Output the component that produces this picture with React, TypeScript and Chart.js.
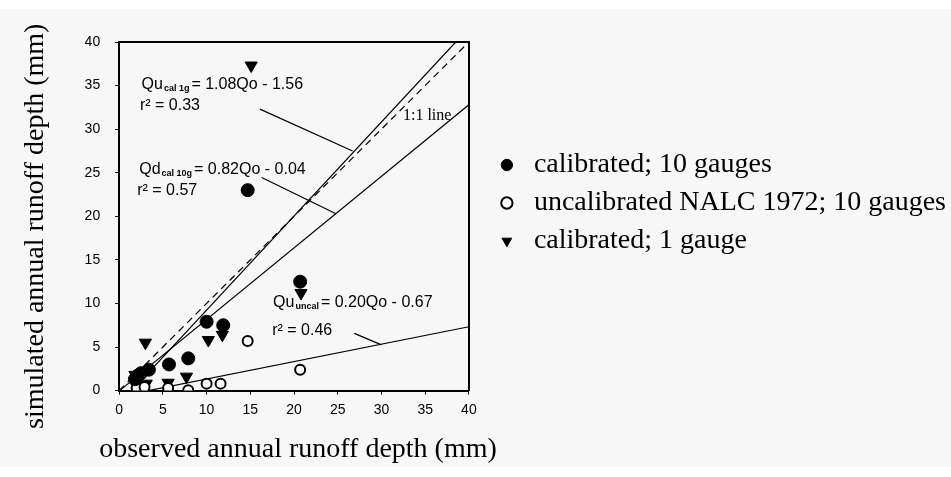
import React, { useEffect, useRef } from "react";
import { Chart, registerables } from "chart.js";

Chart.register(...registerables);

const SANS = '"Liberation Sans", Arial, sans-serif';
const SERIF = '"Liberation Serif", "Times New Roman", serif';

// axis range / ticks
const AXIS_MIN = 0;
const AXIS_MAX = 40;
const TICK_STEP = 5;
const xTitle = "observed annual runoff depth (mm)";
const yTitle = "simulated annual runoff depth (mm)";

// series (observed, simulated) in mm
const calibrated10Obs = [1.8, 2.1, 2.5, 3.4, 5.7, 7.9, 10.0, 11.9, 14.7, 20.7];
const calibrated10Sim = [1.3, 1.7, 2.0, 2.4, 3.0, 3.7, 7.9, 7.5, 23.0, 12.5];

const uncalibratedObs = [2.0, 2.9, 5.6, 7.9, 10.0, 11.6, 14.7, 20.7];
const uncalibratedSim = [0.3, 0.4, 0.3, 0.05, 0.8, 0.8, 5.7, 2.4];

const calibrated1Obs = [1.8, 3.0, 3.1, 5.6, 7.7, 10.2, 11.8, 15.1, 20.8];
const calibrated1Sim = [1.8, 5.5, 0.8, 0.9, 1.6, 5.8, 6.4, 37.3, 11.2];

const seriesNames = [
  "calibrated; 10 gauges",
  "uncalibrated NALC 1972; 10 gauges",
  "calibrated; 1 gauge",
];

// fitted lines (endpoints) and 1:1 line
const quCalLine = [[1.44, 0], [38.5, 40]];
const oneToOneLine = [[0, 0], [40, 40]];
const qdCalLine = [[0.05, 0], [40, 32.8]];
const quUncalLine = [[3.35, 0], [40, 7.33]];

// leader lines from labels to fitted lines
const leaderQu = [[16.1, 32.3], [26.7, 27.5]];
const leaderQd = [[16.3, 24.45], [24.8, 20.3]];
const leaderUncal = [[26.9, 6.57], [30.0, 5.25]];

// equation texts
const eqHeads = ["Qu", "Qd", "Qu"];
const eqSubs = ["cal 1g", "cal 10g", "uncal"];
const eqTails = ["= 1.08Qo - 1.56", "= 0.82Qo - 0.04", "= 0.20Qo - 0.67"];
const eqR2 = ["r\u00B2 = 0.33", "r\u00B2 = 0.57", "r\u00B2 = 0.46"];
const oneToOneText = "1:1 line";

// anchors (data coords): [x, eqBaselineY, r2X, r2BaselineY]
const eqAnchors = [
  [2.56, 34.66, 2.37, 32.2],
  [2.29, 24.9, 2.06, 22.5],
  [17.6, 9.63, 17.5, 6.4],
];
const oneToOneAnchor = [32.46, 31.0];

const pts = (xs: number[], ys: number[]) => xs.map((x, i) => ({ x, y: ys[i] }));
const pairPts = (arr: number[][]) => arr.map(([x, y]) => ({ x, y }));

const labelPlugin = {
  id: "eqLabels",
  afterDatasetsDraw(chart: any) {
    const { ctx, scales, chartArea } = chart;
    const sx = scales.x;
    const sy = scales.y;
    ctx.save();
    ctx.fillStyle = "#000";
    ctx.textBaseline = "alphabetic";
    ctx.textAlign = "left";
    eqAnchors.forEach((a, i) => {
      let px = sx.getPixelForValue(a[0]);
      const py = sy.getPixelForValue(a[1]);
      ctx.font = `16px ${SANS}`;
      ctx.fillText(eqHeads[i], px, py);
      px += ctx.measureText(eqHeads[i]).width + 1;
      ctx.font = `bold 9px ${SANS}`;
      ctx.fillText(eqSubs[i], px, py + 2);
      px += ctx.measureText(eqSubs[i]).width + 2;
      ctx.font = `16px ${SANS}`;
      ctx.fillText(eqTails[i], px, py);
      ctx.fillText(eqR2[i], sx.getPixelForValue(a[2]), sy.getPixelForValue(a[3]));
    });
    ctx.font = `16px ${SERIF}`;
    ctx.fillText(
      oneToOneText,
      sx.getPixelForValue(oneToOneAnchor[0]),
      sy.getPixelForValue(oneToOneAnchor[1])
    );

    // axis titles (drawn without width compression)
    ctx.font = `28px ${SERIF}`;
    ctx.textAlign = "center";
    ctx.textBaseline = "middle";
    const xcx = (chartArea.left + chartArea.right) / 2 + 4;
    const xcy = sx.bottom - 4 - 16.8;
    ctx.fillText(xTitle, xcx, xcy);
    const ycx = sy.left + 4 + 16.8;
    const ycy = (chartArea.top + chartArea.bottom) / 2 + 10;
    ctx.translate(ycx, ycy);
    ctx.rotate(-Math.PI / 2);
    ctx.fillText(yTitle, 0, 0);
    ctx.restore();
  },
};

export default function App() {
  const ref = useRef<HTMLCanvasElement>(null);

  useEffect(() => {
    const canvas = ref.current;
    if (!canvas) return;
    Chart.defaults.font.family = SANS;
    Chart.defaults.color = "#000";

    const lineDs = (arr: number[][], dash: number[] = []) => ({
      data: pairPts(arr),
      showLine: true,
      pointRadius: 0,
      pointHoverRadius: 0,
      borderColor: "#000",
      backgroundColor: "#000",
      borderWidth: 1.2,
      borderDash: dash,
      fill: false,
      order: 1,
    });

    const chart = new Chart(canvas, {
      type: "scatter",
      data: {
        datasets: [
          {
            label: seriesNames[0],
            data: pts(calibrated10Obs, calibrated10Sim),
            pointStyle: "circle",
            pointRadius: 6.5,
            backgroundColor: "#000",
            borderColor: "#000",
            borderWidth: 1,
            order: 0,
          },
          {
            label: seriesNames[1],
            data: pts(uncalibratedObs, uncalibratedSim),
            pointStyle: "circle",
            pointRadius: 5,
            backgroundColor: "#fff",
            borderColor: "#000",
            borderWidth: 2,
            order: 0,
          },
          {
            label: seriesNames[2],
            data: pts(calibrated1Obs, calibrated1Sim),
            pointStyle: "triangle",
            rotation: 180,
            pointRotation: 180,
            pointRadius: 7,
            backgroundColor: "#000",
            borderColor: "#000",
            borderWidth: 1,
            order: 0,
          } as any,
          lineDs(quCalLine),
          lineDs(oneToOneLine, [7, 5]),
          lineDs(qdCalLine),
          lineDs(quUncalLine),
          lineDs(leaderQu),
          lineDs(leaderQd),
          lineDs(leaderUncal),
        ],
      },
      options: {
        responsive: false,
        animation: false,
        devicePixelRatio: 1,
        layout: { padding: { left: 15, top: 42, right: -5, bottom: 7 } },
        plugins: {
          tooltip: { enabled: false },
          legend: {
            position: "right",
            align: "start",
            maxWidth: 500,
            title: {
              display: true,
              text: "",
              font: { size: 10 },
              padding: { top: 87, bottom: 0 },
            },
            labels: {
              usePointStyle: true,
              boxWidth: 26,
              boxHeight: 8,
              padding: 10,
              color: "#000",
              font: { family: SERIF, size: 28 },
              filter: (item: any) => item.datasetIndex < 3,
            },
          },
        },
        scales: {
          x: {
            type: "linear",
            position: "bottom",
            min: AXIS_MIN,
            max: AXIS_MAX,
            ticks: { stepSize: TICK_STEP, padding: 7, color: "#000", font: { size: 14 } },
            grid: {
              display: true,
              drawOnChartArea: false,
              drawTicks: true,
              tickLength: 4,
              color: "#000",
            },
            border: { display: true, color: "#000", width: 2 },
            title: {
              display: true,
              text: xTitle,
              color: "rgba(0,0,0,0)",
              font: { family: SERIF, size: 28 },
              padding: { top: 7, bottom: 4 },
            },
          },
          y: {
            type: "linear",
            position: "left",
            min: AXIS_MIN,
            max: AXIS_MAX,
            ticks: { stepSize: TICK_STEP, padding: 15, color: "#000", font: { size: 14 } },
            grid: {
              display: true,
              drawOnChartArea: false,
              drawTicks: true,
              tickLength: 4,
              color: "#000",
            },
            border: { display: true, color: "#000", width: 2 },
            title: {
              display: true,
              text: yTitle,
              color: "rgba(0,0,0,0)",
              font: { family: SERIF, size: 28 },
              padding: { top: 4, bottom: 17 },
            },
          },
          x2: {
            type: "linear",
            position: "top",
            min: AXIS_MIN,
            max: AXIS_MAX,
            ticks: { display: false },
            grid: { display: false },
            border: { display: true, color: "#000", width: 2 },
            afterFit: (s: any) => {
              s.height = 0;
            },
          },
          y2: {
            type: "linear",
            position: "right",
            min: AXIS_MIN,
            max: AXIS_MAX,
            ticks: { display: false },
            grid: { display: false },
            border: { display: true, color: "#000", width: 2 },
            afterFit: (s: any) => {
              s.width = 15;
            },
          },
        },
      } as any,
      plugins: [labelPlugin],
    });

    return () => chart.destroy();
  }, []);

  return (
    <div
      style={{
        position: "absolute",
        left: 0,
        top: 0,
        width: 951,
        height: 477,
        background:
          "linear-gradient(#ffffff 0px, #ffffff 9px, #f7f7f7 9px, #f7f7f7 467px, #ffffff 467px)",
      }}
    >
      <canvas ref={ref} width={951} height={477} style={{ display: "block" }} />
    </div>
  );
}
